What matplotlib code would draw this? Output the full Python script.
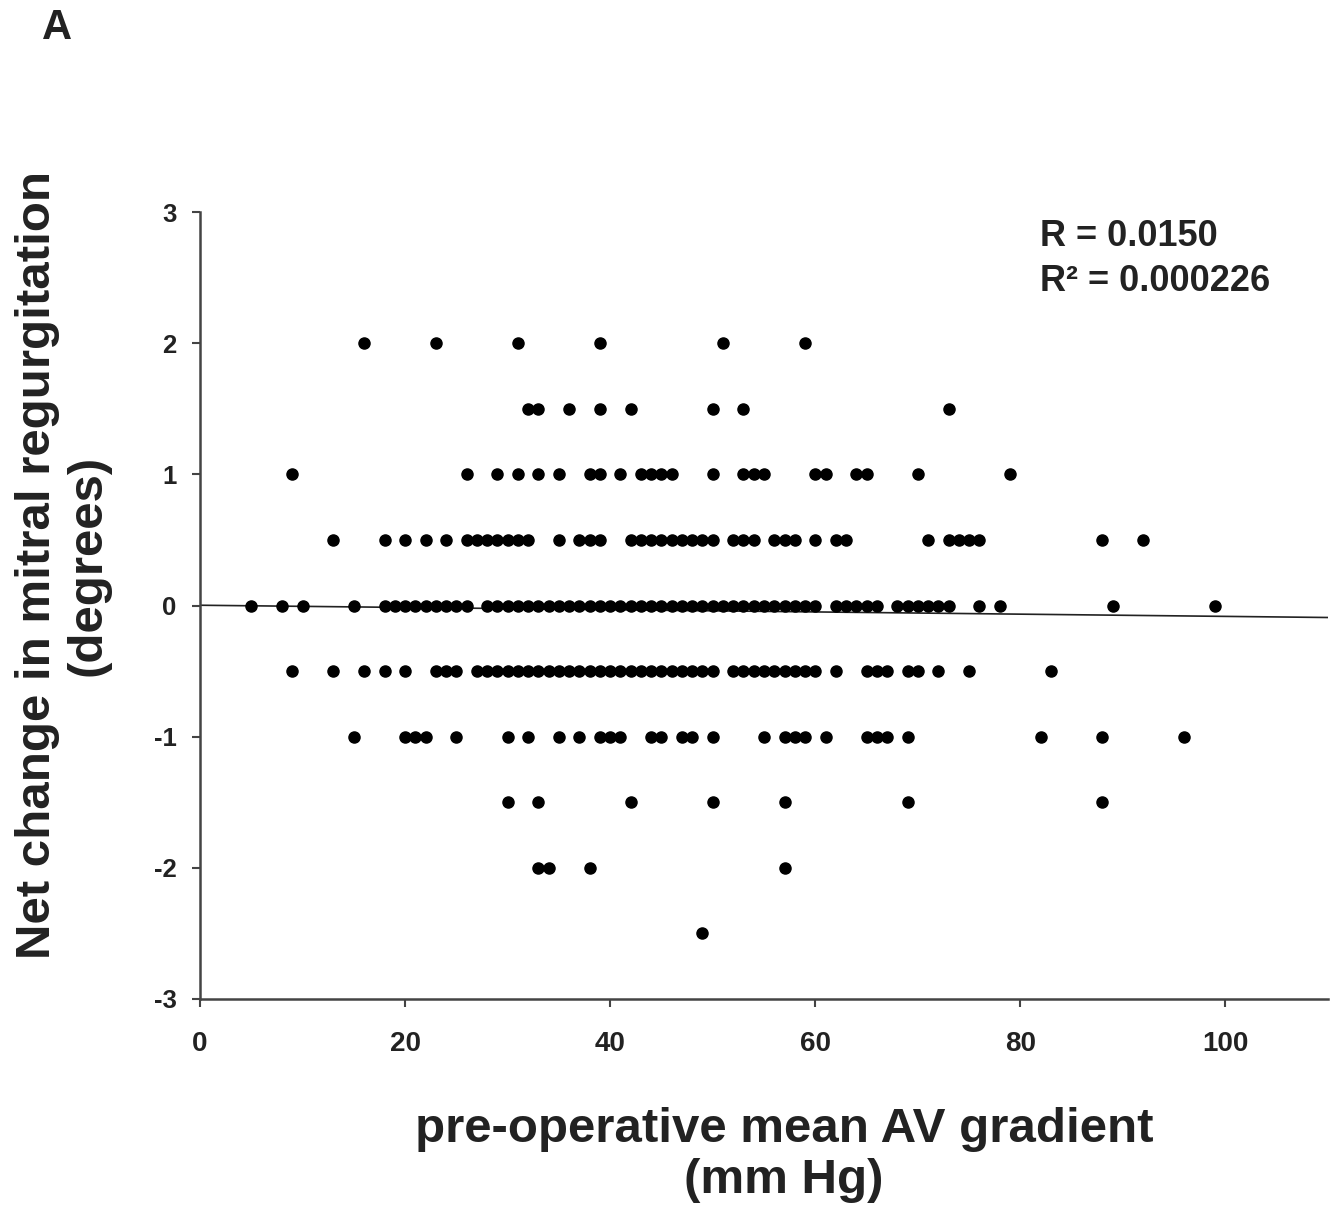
import matplotlib
matplotlib.use("Agg")
import matplotlib.pyplot as plt
import numpy as np

plt.rcParams['font.family'] = ['Liberation Sans', 'DejaVu Sans']
plt.rcParams['font.weight'] = 'bold'
plt.rcParams['axes.unicode_minus'] = False

# x values (pre-operative mean AV gradient, mm Hg) for each level of change
row_2 = [16, 23, 31, 39, 51, 59]
row_1_5 = [32, 33, 36, 39, 42, 50, 53, 73]
row_1 = [9, 26, 29, 31, 33, 35, 38, 39, 41, 43, 44, 45, 46, 50, 53, 54, 55,
         60, 61, 64, 65, 70, 79]
row_0_5 = [13, 18, 20, 22, 24, 26, 27, 28, 29, 30, 31, 32, 35, 37, 38, 39,
           42, 43, 44, 45, 46, 47, 48, 49, 50, 52, 53, 54, 56, 57, 58, 60,
           62, 63, 71, 73, 74, 75, 76, 88, 92]
row_0 = [5, 8, 10, 15, 18, 19, 20, 21, 22, 23, 24, 25, 26, 28, 29, 30, 31,
         32, 33, 34, 35, 36, 37, 38, 39, 40, 41, 42, 43, 44, 45, 46, 47, 48,
         49, 50, 51, 52, 53, 54, 55, 56, 57, 58, 59, 60, 62, 63, 64, 65, 66,
         68, 69, 70, 71, 72, 73, 76, 78, 89, 99]
row_m0_5 = [9, 13, 16, 18, 20, 23, 24, 25, 27, 28, 29, 30, 31, 32, 33, 34,
            35, 36, 37, 38, 39, 40, 41, 42, 43, 44, 45, 46, 47, 48, 49, 50,
            52, 53, 54, 55, 56, 57, 58, 59, 60, 62, 65, 66, 67, 69, 70, 72,
            75, 83]
row_m1 = [15, 20, 21, 22, 25, 30, 32, 35, 37, 39, 40, 41, 44, 45, 47, 48, 50,
          55, 57, 58, 59, 61, 65, 66, 67, 69, 82, 88, 96]
row_m1_5 = [30, 33, 42, 50, 57, 69, 88]
row_m2 = [33, 34, 38, 57]
row_m2_5 = [49]

levels = [2, 1.5, 1, 0.5, 0, -0.5, -1, -1.5, -2, -2.5]
rows = [row_2, row_1_5, row_1, row_0_5, row_0, row_m0_5, row_m1, row_m1_5,
        row_m2, row_m2_5]

# regression line
fit_intercept = 0.002
fit_slope = -0.00085

xs = []
ys = []
for lev, r in zip(levels, rows):
    xs.extend(r)
    ys.extend([lev] * len(r))

fig = plt.figure(figsize=(13.44, 12.13), dpi=100)
ax = fig.add_axes([200 / 1344, 214 / 1213, 1128 / 1344, 787 / 1213])

ax.plot(xs, ys, 'o', color='black', markersize=8, zorder=3)
line_x = np.array([0, 110])
ax.plot(line_x, fit_intercept + fit_slope * line_x, color='#222222', lw=1.2)

ax.set_xlim(0, 110)
ax.set_ylim(-3, 3)
ax.set_xticks([0, 20, 40, 60, 80, 100])
ax.set_yticks([-3, -2, -1, 0, 1, 2, 3])
for s in ['top', 'right']:
    ax.spines[s].set_visible(False)
for s in ['left', 'bottom']:
    ax.spines[s].set_linewidth(1.8)
    ax.spines[s].set_color('#444444')
ax.tick_params(axis='both', direction='out', length=6, width=1.5,
               color='#444444', labelcolor='#222222')
ax.tick_params(axis='x', labelsize=20, pad=17)
ax.tick_params(axis='y', labelsize=18.5, pad=11)
for lbl in ax.get_xticklabels() + ax.get_yticklabels():
    lbl.set_fontweight('bold')

fig.text(784 / 1344, 1 - 1155 / 1213,
         'pre-operative mean AV gradient\n(mm Hg)',
         ha='center', va='center', fontsize=35.5, fontweight='bold',
         color='#222222', linespacing=1.15)
fig.text(63 / 1344, 1 - 565 / 1213,
         'Net change in mitral regurgitation\n(degrees)',
         ha='center', va='center', rotation=90, fontsize=35.5,
         fontweight='bold', color='#222222', linespacing=1.15)
fig.text(57 / 1344, 1 - 28 / 1213, 'A', ha='center', va='center',
         fontsize=30, fontweight='bold', color='#222222')
fig.text(1040 / 1344, 1 - 237 / 1213, 'R = 0.0150', ha='left', va='center',
         fontsize=26, fontweight='bold', color='#222222')
fig.text(1040 / 1344, 1 - 281 / 1213, 'R² = 0.000226', ha='left',
         va='center', fontsize=26, fontweight='bold', color='#222222')

fig.savefig('out.png', dpi=100)
